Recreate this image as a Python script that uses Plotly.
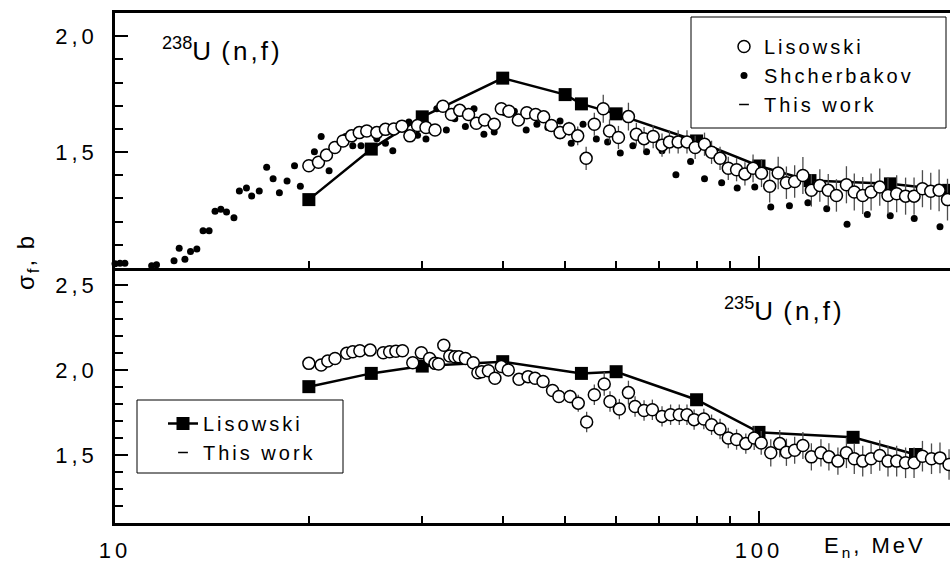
import plotly.graph_objects as go

# ---------------- data ----------------
# Top panel: 238U(n,f)
lis238_E = [20.0, 20.7, 21.3, 21.95, 22.6, 23.3, 23.95, 24.6, 25.5, 26.3, 27.1, 27.9, 28.7, 29.5, 30.4, 31.4,
            32.3, 33.3, 34.3, 35.4, 36.4, 37.5, 38.8, 39.8, 40.9, 42.3, 43.6, 45.0, 46.3, 47.6, 49.1, 50.7,
            52.3, 53.9, 55.5, 57.3, 58.6, 60.5, 62.7, 64.5, 66.3, 68.5, 70.7, 72.6, 74.9, 77.3, 79.6, 82.3,
            84.4, 87.0, 89.6, 92.3, 95.1, 97.9, 100.9, 103.9, 107.1, 110.3, 113.6, 117.0, 120.6, 124.3,
            128.1, 131.9, 136.7, 140.6, 144.9, 149.3, 154.0, 158.6, 163.6, 168.9, 174.1, 179.4, 184.8,
            190.4, 196.2]
lis238_S = [1.441, 1.456, 1.487, 1.52, 1.548, 1.57, 1.584, 1.591, 1.584, 1.598, 1.60, 1.612, 1.57, 1.615, 1.606, 1.595,
            1.698, 1.662, 1.68, 1.662, 1.624, 1.638, 1.62, 1.687, 1.676, 1.638, 1.67, 1.662, 1.652, 1.615, 1.584, 1.601,
            1.57, 1.473, 1.62, 1.687, 1.591, 1.563, 1.653, 1.577, 1.558, 1.567, 1.53, 1.544, 1.544, 1.544, 1.52, 1.534,
            1.499, 1.473, 1.43, 1.424, 1.406, 1.43, 1.409, 1.353, 1.41, 1.368, 1.373, 1.399, 1.335, 1.356,
            1.335, 1.313, 1.359, 1.328, 1.313, 1.328, 1.349, 1.313, 1.32, 1.31, 1.31, 1.342, 1.331,
            1.335, 1.295]
lis238_err = [0.015, 0.015, 0.015, 0.015, 0.015, 0.015, 0.015, 0.015, 0.015, 0.015, 0.015, 0.015, 0.015, 0.015, 0.015, 0.015,
              0.02, 0.02, 0.02, 0.02, 0.02, 0.02, 0.02, 0.02, 0.02, 0.02, 0.02, 0.02, 0.025, 0.025, 0.03, 0.03,
              0.04, 0.05, 0.05, 0.06, 0.05, 0.05, 0.06, 0.05, 0.05, 0.05, 0.05, 0.05, 0.05, 0.05, 0.05, 0.05,
              0.05, 0.05, 0.05, 0.05, 0.05, 0.06, 0.06, 0.07, 0.07, 0.07, 0.07, 0.08, 0.07, 0.07,
              0.07, 0.07, 0.08, 0.08, 0.08, 0.08, 0.08, 0.08, 0.08, 0.08, 0.08, 0.08, 0.08,
              0.09, 0.09]

shch_E = [10.0, 10.18, 10.36, 11.4, 11.6, 12.35, 12.58, 12.84, 13.1, 13.4, 13.7, 14.0, 14.3, 14.6, 14.9, 15.3,
          15.6, 16.0, 16.3, 16.75, 17.2, 17.6, 18.0, 18.5, 19.0, 19.4, 19.9, 20.4, 20.9, 21.5, 22.1, 22.8,
          23.4, 24.1, 24.7, 25.5, 26.3, 27.0, 27.9, 28.6, 29.5, 30.4, 31.6, 32.7, 33.7, 35.0, 36.1, 37.4,
          38.8, 40.3, 41.7, 43.5, 45.2, 47.0, 49.1, 51.1, 53.3, 55.9, 58.2, 60.9, 63.7, 66.9, 70.7, 74.3,
          78.3, 82.3, 87.5, 92.5, 98.5, 104.3, 111.5, 119.1, 127.4, 137.0, 147.3, 159.9, 174.2, 191.0]
shch_S = [1.018, 1.021, 1.021, 1.01, 1.014, 1.031, 1.085, 1.038, 1.071, 1.082, 1.161, 1.161, 1.245, 1.253, 1.242, 1.217,
          1.332, 1.345, 1.311, 1.332, 1.435, 1.385, 1.325, 1.375, 1.441, 1.353, 1.435, 1.501, 1.567, 1.42, 1.52, 1.567,
          1.527, 1.527, 1.598, 1.558, 1.538, 1.506, 1.606, 1.63, 1.573, 1.556, 1.687, 1.595, 1.644, 1.61, 1.687, 1.577,
          1.587, 1.67, 1.676, 1.595, 1.62, 1.606, 1.634, 1.538, 1.62, 1.556, 1.544, 1.496, 1.527, 1.501, 1.506, 1.402,
          1.459, 1.385, 1.368, 1.345, 1.349, 1.263, 1.268, 1.282, 1.256, 1.189, 1.231, 1.225, 1.214, 1.178]
SHCH_ERR = 0.012

tw238_E = [20, 25, 30, 40, 50, 53, 60, 80, 100, 120, 160, 197]
tw238_S = [1.295, 1.513, 1.652, 1.819, 1.748, 1.708, 1.665, 1.548, 1.44, 1.377, 1.363, 1.335]

# Bottom panel: 235U(n,f)
lis235_E = [20.0, 20.9, 21.4, 21.96, 22.9, 23.4, 24.0, 24.9, 26.1, 26.7, 27.3, 27.95, 29.0, 29.9, 30.8, 31.4,
            31.8, 32.4, 33.1, 33.7, 34.2, 35.0, 36.0, 36.6, 37.1, 38.0, 38.9, 39.8, 40.8, 42.4, 43.8, 44.9,
            46.2, 47.8, 48.9, 50.9, 52.4, 54.0, 55.5, 57.5, 58.7, 60.7, 62.7, 64.2, 66.3, 68.3, 70.7, 72.9,
            75.2, 77.3, 79.3, 82.1, 84.4, 87.0, 89.6, 92.3, 95.4, 98.3, 100.8, 104.3, 107.7, 110.3, 113.6,
            117.0, 120.6, 124.8, 128.4, 132.6, 136.7, 140.6, 144.9, 149.3, 154.0, 158.6, 163.6, 168.9,
            174.1, 179.4, 185.3, 191.0, 197.3]
lis235_S = [2.039, 2.029, 2.053, 2.068, 2.098, 2.107, 2.113, 2.117, 2.101, 2.107, 2.11, 2.113, 2.043, 2.101, 2.068, 2.039,
            2.035, 2.146, 2.082, 2.078, 2.078, 2.068, 2.043, 1.984, 1.99, 1.996, 1.951, 2.02, 2.0, 1.945, 1.961, 1.951,
            1.932, 1.879, 1.844, 1.844, 1.805, 1.694, 1.854, 1.918, 1.815, 1.77, 1.867, 1.785, 1.762, 1.766, 1.727, 1.737,
            1.737, 1.737, 1.708, 1.712, 1.678, 1.653, 1.60, 1.591, 1.567, 1.60, 1.571, 1.513, 1.567, 1.516, 1.528,
            1.556, 1.489, 1.513, 1.489, 1.464, 1.513, 1.478, 1.464, 1.478, 1.497, 1.464, 1.464, 1.454,
            1.454, 1.493, 1.478, 1.483, 1.444]
lis235_err = [0.015, 0.015, 0.015, 0.015, 0.015, 0.015, 0.015, 0.015, 0.015, 0.015, 0.015, 0.015, 0.015, 0.015, 0.015, 0.015,
              0.015, 0.02, 0.02, 0.02, 0.02, 0.02, 0.02, 0.02, 0.02, 0.02, 0.02, 0.02, 0.02, 0.025, 0.025, 0.025,
              0.03, 0.03, 0.03, 0.04, 0.05, 0.06, 0.06, 0.07, 0.06, 0.06, 0.07, 0.06, 0.06, 0.06, 0.06, 0.06,
              0.06, 0.06, 0.06, 0.06, 0.06, 0.06, 0.06, 0.06, 0.06, 0.07, 0.07, 0.08, 0.08, 0.08, 0.08,
              0.08, 0.08, 0.08, 0.08, 0.08, 0.09, 0.09, 0.09, 0.09, 0.09, 0.09, 0.09, 0.09,
              0.09, 0.09, 0.09, 0.09, 0.09]

tw235_E = [20, 25, 30, 40, 53, 60, 80, 100, 140, 175]
tw235_S = [1.902, 1.98, 2.023, 2.049, 1.98, 1.99, 1.825, 1.633, 1.604, 1.503]

x_major = [10, 100]
x_major_text = ["10", "100"]
x_minor = [20, 30, 40, 50, 60, 70, 80, 90, 200]
y_top_ticks = [2.0, 1.5]
y_top_text = ["2,0", "1,5"]
y_bot_ticks = [2.5, 2.0, 1.5]
y_bot_text = ["2,5", "2,0", "1,5"]

# ---------------- style helpers ----------------
FONT = "Arial, Liberation Sans, sans-serif"


def sp(t, px):
    return f'<span style="letter-spacing:{px}px">{t}</span>'


W, H = 950, 569
ML, MR, MT, MB = 115, 0, 13, 46
PW, PH = W - ML - MR, H - MT - MB


def px2paper(px, py):
    return (px - ML) / PW, (H - MB - py) / PH


fig = go.Figure()

circ = dict(symbol="circle", size=12, color="white", line=dict(color="black", width=1.5))
ebar = dict(type="data", color="#4d4d4d", thickness=1.3, width=0)

# ---- top panel ----
fig.add_trace(go.Scatter(x=tw238_E, y=tw238_S, mode="lines+markers", xaxis="x", yaxis="y",
                         line=dict(color="black", width=2.5),
                         marker=dict(symbol="square", size=13, color="black"),
                         showlegend=False, cliponaxis=False))
fig.add_trace(go.Scatter(x=shch_E, y=shch_S, mode="markers", xaxis="x", yaxis="y",
                         name=sp("Shcherbakov", 3),
                         marker=dict(symbol="circle", size=7, color="black"),
                         error_y=dict(type="constant", value=SHCH_ERR, color="#333333", thickness=1, width=0),
                         legend="legend", legendrank=2, cliponaxis=False))
fig.add_trace(go.Scatter(x=lis238_E, y=lis238_S, mode="markers", xaxis="x", yaxis="y",
                         name=sp("Lisowski", 3),
                         marker=circ, error_y=dict(ebar, array=lis238_err),
                         legend="legend", legendrank=1, cliponaxis=False))
fig.add_trace(go.Scatter(x=[None], y=[None], mode="markers", xaxis="x", yaxis="y",
                         name=sp("This work", 3),
                         marker=dict(symbol="line-ew-open", size=7, color="black", line=dict(width=1.5, color="black")),
                         legend="legend", legendrank=3))

# ---- bottom panel ----
fig.add_trace(go.Scatter(x=tw235_E, y=tw235_S, mode="lines+markers", xaxis="x2", yaxis="y2",
                         name=sp("Lisowski", 3),
                         line=dict(color="black", width=2.5),
                         marker=dict(symbol="square", size=13, color="black"),
                         legend="legend2", legendrank=1, cliponaxis=False))
fig.add_trace(go.Scatter(x=lis235_E, y=lis235_S, mode="markers", xaxis="x2", yaxis="y2",
                         marker=circ, error_y=dict(ebar, array=lis235_err),
                         showlegend=False, cliponaxis=False))
fig.add_trace(go.Scatter(x=[None], y=[None], mode="markers", xaxis="x2", yaxis="y2",
                         name=sp("This work", 3),
                         marker=dict(symbol="line-ew-open", size=7, color="black", line=dict(width=1.5, color="black")),
                         legend="legend2", legendrank=2))

xrange = [1.0, 2.2966]
axis_common = dict(showline=True, linecolor="black", linewidth=2.5, ticks="inside",
                   tickcolor="black", tickwidth=2, showgrid=False, zeroline=False)

fig.update_layout(
    width=W, height=H,
    margin=dict(l=ML, r=MR, t=MT, b=MB),
    paper_bgcolor="white", plot_bgcolor="white",
    font=dict(family=FONT, color="black", size=22),
    xaxis=dict(axis_common, type="log", range=xrange, domain=[0, 1], anchor="y",
               tickmode="array", tickvals=x_major, ticktext=x_major_text, showticklabels=False,
               ticklen=12, mirror=True,
               minor=dict(tickmode="array", tickvals=x_minor, ticks="inside", ticklen=7,
                          tickwidth=2, tickcolor="black")),
    xaxis2=dict(axis_common, type="log", range=xrange, domain=[0, 1], anchor="y2",
                tickmode="array", tickvals=x_major, ticktext=[sp(t, 4) for t in x_major_text],
                ticklen=12, mirror=False, ticklabelstandoff=6,
                tickfont=dict(size=22, family=FONT),
                minor=dict(tickmode="array", tickvals=x_minor, ticks="inside", ticklen=7,
                           tickwidth=2, tickcolor="black")),
    yaxis=dict(axis_common, range=[1.0, 2.1], domain=[0.5, 1], anchor="x",
               tickmode="array", tickvals=y_top_ticks, ticktext=[sp(t, 4) for t in y_top_text],
               ticklen=13, ticklabelstandoff=10, tickfont=dict(size=22, family=FONT),
               minor=dict(dtick=0.1, tick0=0, ticks="inside", ticklen=8, tickwidth=2, tickcolor="black")),
    yaxis2=dict(axis_common, range=[1.1, 2.6], domain=[0, 0.5], anchor="x2",
                tickmode="array", tickvals=y_bot_ticks, ticktext=[sp(t, 4) for t in y_bot_text],
                ticklen=13, ticklabelstandoff=10, tickfont=dict(size=22, family=FONT),
                minor=dict(dtick=0.1, tick0=0, ticks="inside", ticklen=8, tickwidth=2, tickcolor="black")),
)

# legends (boxes drawn as shapes)
lx, ly = px2paper(724, 27)
l2x, l2y = px2paper(163, 404)
fig.update_layout(
    legend=dict(x=lx, y=ly, xanchor="left", yanchor="top", bgcolor="rgba(0,0,0,0)",
                borderwidth=0, font=dict(size=20, family=FONT), tracegroupgap=0),
    legend2=dict(x=l2x, y=l2y, xanchor="left", yanchor="top", bgcolor="rgba(0,0,0,0)",
                 borderwidth=0, font=dict(size=20, family=FONT), tracegroupgap=0),
)

b1x0, b1y1 = px2paper(691, 17)
b1x1, b1y0 = px2paper(946, 128)
b2x0, b2y1 = px2paper(137, 400)
b2x1, b2y0 = px2paper(343, 473)
fig.add_shape(type="rect", xref="paper", yref="paper", x0=b1x0, x1=b1x1, y0=b1y0, y1=b1y1,
              line=dict(color="black", width=1), fillcolor="white", layer="below")
fig.add_shape(type="rect", xref="paper", yref="paper", x0=b2x0, x1=b2x1, y0=b2y0, y1=b2y1,
              line=dict(color="black", width=1), fillcolor="white", layer="below")

# annotations
ax, ay = px2paper(160, 50)
fig.add_annotation(x=ax, y=ay, xref="paper", yref="paper", xanchor="left", yanchor="middle",
                   text="<sup>238</sup>U" + sp(" (n,f)", 3), showarrow=False,
                   font=dict(size=26, family=FONT))
ax, ay = px2paper(722, 310)
fig.add_annotation(x=ax, y=ay, xref="paper", yref="paper", xanchor="left", yanchor="middle",
                   text="<sup>235</sup>U" + sp(" (n,f)", 3), showarrow=False,
                   font=dict(size=26, family=FONT))
ax, ay = px2paper(822, 547)
fig.add_annotation(x=ax, y=ay, xref="paper", yref="paper", xanchor="left", yanchor="middle",
                   text=sp("E<sub>n</sub>, MeV", 3), showarrow=False,
                   font=dict(size=22, family=FONT))
ax, ay = px2paper(27, 262)
fig.add_annotation(x=ax, y=ay, xref="paper", yref="paper", xanchor="center", yanchor="middle",
                   text=sp("σ<sub>f</sub>, b", 2), textangle=-90, showarrow=False,
                   font=dict(size=24, family=FONT))

fig.write_html("out.html", config={"displayModeBar": False},
               post_script="document.body.style.margin='0';document.body.style.overflow='hidden';")
